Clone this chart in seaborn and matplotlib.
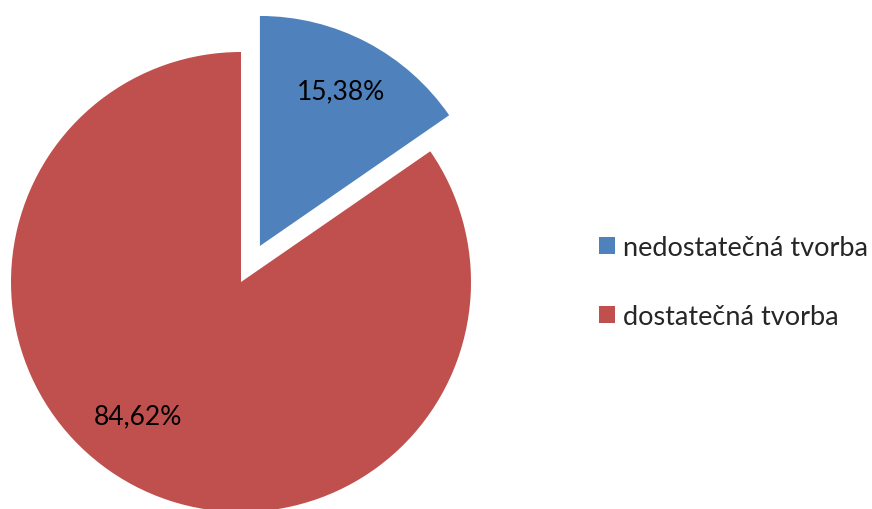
import numpy as np
import matplotlib.pyplot as plt
import seaborn as sns

labels = ['nedostatečná tvorba', 'dostatečná tvorba']
values = [15.38, 84.62]
colors = ['#4F81BD', '#C0504D']
explode_px = [40.7, 0.0]

sns.set_theme(style='white')
plt.rcParams['font.family'] = ['Lato', 'DejaVu Sans']

fig = plt.figure(figsize=(8.72, 5.10), dpi=100)
ax = fig.add_axes([0, 0, 1, 1])

R = 230
cx, cy = 241, 227
# matplotlib's explode offset is in data units, axes are in pixel units here
wedges, _ = ax.pie(values, colors=colors, explode=explode_px, startangle=90,
                   counterclock=False, radius=R, center=(cx, cy),
                   wedgeprops=dict(linewidth=0), frame=True)
ax.set_xlim(0, 872)
ax.set_ylim(0, 510)
ax.axis('off')

# percentage labels
lab_ang = [27.7, 217.5]
lab_dist = [0.76, 0.735]
mid = np.deg2rad(360 * values[0] / 100 / 2)
for v, a, d, e in zip(values, lab_ang, lab_dist, explode_px):
    t = np.deg2rad(a)
    x = cx + e * np.sin(mid) + d * R * np.sin(t)
    y = cy + e * np.cos(mid) + d * R * np.cos(t)
    ax.text(x, y, f'{v:.2f}%'.replace('.', ','), ha='center', va='center',
            fontsize=19, color='black')

ax.legend(wedges, labels, loc='center left', bbox_to_anchor=(588 / 872, 1 - 283 / 510),
          frameon=False, fontsize=19.5, handlelength=0.6, handleheight=0.6,
          handletextpad=0.3, labelspacing=1.6, borderaxespad=0)

fig.savefig('out.png', dpi=100)
